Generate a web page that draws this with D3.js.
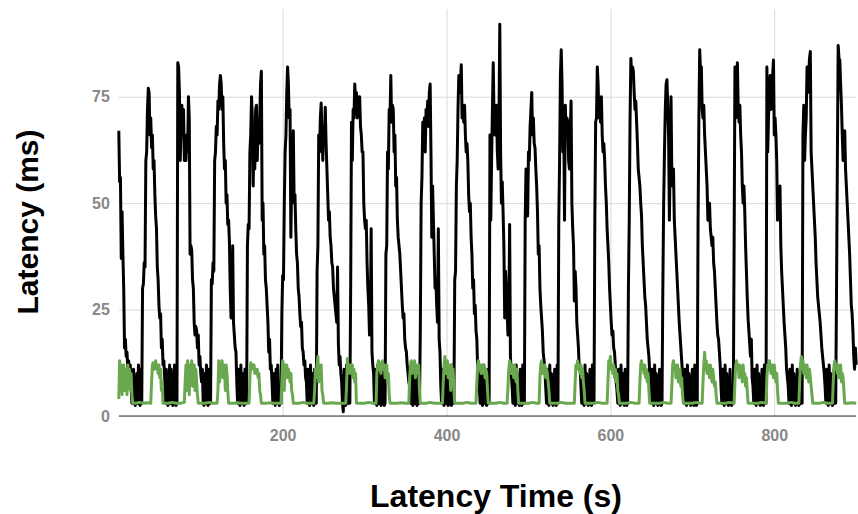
<!DOCTYPE html>
<html>
<head>
<meta charset="utf-8">
<script src="https://cdn.jsdelivr.net/npm/d3@7"></script>
<style>
  body { margin: 0; background: #fff; }
  .tick text { font-family: Arial, "Liberation Sans", sans-serif; font-weight: bold; font-size: 16px; fill: #888; }
  .title { font-family: Arial, "Liberation Sans", sans-serif; font-weight: bold; font-size: 30px; fill: #000; }
</style>
</head>
<body>
<div id="canvas"></div>
<script>
// tick labels
const yTicks = [0, 25, 50, 75];
const xTicks = [200, 400, 600, 800];

// [time (s), latency (ms)] - black series
const latencyBlack = [
  [0,67],[1,55],[2,56],[3,37],[4,48],[5,38],[6,30],[7,16],[8,18],[9,14],[10,15],[11,11],[12,13],[13,9],[14,12],[15,7],[16,3],[17,3],[18,11],[19,3],[20,2.5],[21,3],[22,10],[23,3],[24,12],[25,3],[26,2.5],[27,11],[28,3],
  [29,30],[30,31],[31,36],[32,35],[33,60],[34,62],[35,72],[36,77],[37,76],[38,66],[39,70],[40,63],[41,66],[42,58],[43,60],[44,52],[45,47],[46,44],[47,35],[48,32],[49,26],[50,23],[51,24],[52,16],[53,18],[54,12],[55,13],[56,9],[57,3],[58,11],[59,3],[60,2.5],[61,3],[62,12],[63,3],[64,11],[65,3],[66,2.5],[67,3],[68,12],[69,3],[70,2.5],[71,3],
  [72,83],[73,82],[74,76],[75,60],[76,68],[77,73],[78,66],[79,72],[80,60],[81,64],[82,60],[83,66],[84,62],[85,75],[86,70],[87,38],[88,40],[89,39],[90,32],[91,30],[92,22],[93,19],[94,21],[95,20],[96,16],[97,19],[98,12],[99,14],[100,10],[101,8],[102,11],[103,3],[104,2.5],[105,10],[106,3],[107,12],[108,3],[109,2.5],[110,11],[111,3],[112,3],
  [113,32],[114,31],[115,36],[116,34],[117,60],[118,62],[119,68],[120,66],[121,74],[122,72],[123,78],[124,80],[125,78],[126,72],[127,75],[128,64],[129,58],[130,60],[131,50],[132,52],[133,45],[134,46],[135,41],[136,30],[137,23],[138,25],[139,40],[140,22],[141,19],[142,16],[143,15],[144,8],[145,3],[146,11],[147,3],[148,2.5],[149,12],[150,3],[151,10],[152,3],[153,2.5],[154,11],[155,3],[156,3],
  [157,40],[158,45],[159,44],[160,62],[161,66],[162,75],[163,70],[164,54],[165,66],[166,58],[167,72],[168,73],[169,60],[170,68],[171,64],[172,70],[173,78],[174,81],[175,46],[176,50],[177,38],[178,40],[179,32],[180,30],[181,26],[182,22],[183,15],[184,18],[185,11],[186,12],[187,8],[188,3],[189,10],[190,3],[191,2.5],[192,11],[193,3],[194,12],[195,3],[196,2.5],[197,3],[198,3],
  [199,24],[200,33],[201,32],[202,50],[203,62],[204,66],[205,76],[206,82],[207,78],[208,70],[209,72],[210,42],[211,55],[212,60],[213,67],[214,50],[215,52],[216,44],[217,38],[218,36],[219,30],[220,28],[221,24],[222,21],[223,22],[224,16],[225,15],[226,12],[227,13],[228,9],[229,8],[230,3],[231,11],[232,3],[233,2.5],[234,12],[235,3],[236,10],[237,3],[238,2.5],[239,11],[240,3],[241,3],
  [242,34],[243,40],[244,66],[245,62],[246,70],[247,73.5],[248,66],[249,60],[250,68],[251,65],[252,72.5],[253,64],[254,58],[255,52],[256,46],[257,48],[258,42],[259,40],[260,36],[261,35],[262,30],[263,28],[264,26],[265,24],[266,22],[267,35],[268,17],[269,12],[270,14],[271,10],[272,8],[273,3],[274,1],[275,11],[276,3],[277,2.5],[278,12],[279,3],[280,10],[281,3],[282,3],
  [283,30],[284,69],[285,60],[286,72],[287,70],[288,78],[289,74],[290,76],[291,70],[292,75],[293,72],[294,75],[295,68],[296,66],[297,62],[298,62],[299,50],[300,46],[301,44],[302,46],[303,36],[304,30],[305,26],[306,19],[307,22],[308,44],[309,15],[310,12],[311,10],[312,3],[313,11],[314,3],[315,2.5],[316,12],[317,3],[318,10],[319,3],[320,2.5],[321,3],[322,11],[323,3],[324,2.5],[325,3],
  [326,38],[327,40],[328,62],[329,58],[330,72],[331,70],[332,80],[333,69],[334,73],[335,72],[336,62],[337,66],[338,54],[339,56],[340,46],[341,42],[342,40],[343,38],[344,34],[345,30],[346,26],[347,23],[348,24],[349,18],[350,16],[351,15],[352,12],[353,10],[354,8],[355,7],[356,3],[357,11],[358,3],[359,2.5],[360,12],[361,3],[362,10],[363,3],[364,2.5],[365,3],[366,11],[367,3],
  [368,20],[369,50],[370,56],[371,69],[372,66],[373,70],[374,62],[375,72],[376,70],[377,74],[378,68],[379,76],[380,78],[381,62],[382,42],[383,54],[384,46],[385,38],[386,30],[387,32],[388,26],[389,22],[390,44],[391,18],[392,15],[393,7],[394,3],[395,11],[396,3],[397,2.5],[398,12],[399,3],[400,10],[401,3],[402,2.5],[403,3],[404,11],[405,3],[406,2.5],[407,12],[408,3],[409,3],
  [410,32],[411,34],[412,54],[413,60],[414,72],[415,80],[416,76],[417,78],[418,82.5],[419,70],[420,72],[421,69],[422,73],[423,66],[424,62],[425,64],[426,60],[427,52],[428,48],[429,50],[430,42],[431,38],[432,30],[433,32],[434,24],[435,26],[436,20],[437,18],[438,11],[439,12],[440,7],[441,3],[442,11],[443,3],[444,2.5],[445,12],[446,3],[447,10],[448,3],[449,2.5],[450,3],[451,11],[452,3],
  [453,66],[454,46],[455,60],[456,72],[457,83],[458,70],[459,66],[460,68],[461,73],[462,62],[463,58],[464,70],[465,92],[466,62],[467,50],[468,55],[469,48],[470,40],[471,23],[472,34],[473,30],[474,24],[475,19],[476,22],[477,45],[478,14],[479,10],[480,7],[481,3],[482,11],[483,3],[484,2.5],[485,12],[486,3],[487,10],[488,3],[489,2.5],[490,11],[491,3],[492,2.5],[493,12],[494,3],[495,3],
  [496,46],[497,58],[498,50],[499,47],[500,62],[501,60],[502,68],[503,72],[504,76],[505,66],[506,70],[507,64],[508,63],[509,58],[510,54],[511,48],[512,38],[513,40],[514,30],[515,26],[516,23],[517,20],[518,15],[519,13],[520,11],[521,7],[522,3],[523,11],[524,3],[525,2.5],[526,12],[527,3],[528,10],[529,3],[530,2.5],[531,3],[532,11],[533,3],[534,2.5],[535,12],[536,3],
  [537,46],[538,60],[539,80],[540,86],[541,78],[542,62],[543,70],[544,46],[545,73],[546,66],[547,70],[548,69],[549,60],[550,58],[551,66],[552,74],[553,50],[554,44],[555,40],[556,27],[557,34],[558,30],[559,22],[560,19],[561,16],[562,11],[563,12],[564,7],[565,3],[566,11],[567,3],[568,2.5],[569,12],[570,3],[571,10],[572,3],[573,2.5],[574,3],[575,11],[576,3],[577,2.5],[578,12],[579,3],[580,3],
  [581,46],[582,69],[583,70],[584,82],[585,78],[586,70],[587,74],[588,69],[589,75],[590,66],[591,62],[592,64],[593,60],[594,54],[595,50],[596,44],[597,40],[598,36],[599,30],[600,26],[601,22],[602,19],[603,20],[604,16],[605,15],[606,12],[607,8],[608,6],[609,3],[610,11],[611,3],[612,2.5],[613,12],[614,3],[615,10],[616,3],[617,2.5],[618,11],[619,3],[620,2.5],[621,3],
  [622,30],[623,46],[624,70],[625,84],[626,80],[627,82],[628,81],[629,76],[630,72],[631,74],[632,69],[633,64],[634,58],[635,56],[636,54],[637,50],[638,47],[639,40],[640,36],[641,32],[642,28],[643,26],[644,22],[645,18],[646,16],[647,14],[648,10],[649,8],[650,3],[651,11],[652,3],[653,2.5],[654,12],[655,3],[656,10],[657,3],[658,2.5],[659,3],[660,11],[661,3],[662,2.5],[663,3],
  [664,30],[665,50],[666,62],[667,72],[668,78],[669,79],[670,73],[671,66],[672,46],[673,60],[674,75],[675,56],[676,54],[677,58],[678,46],[679,42],[680,38],[681,34],[682,30],[683,26],[684,22],[685,19],[686,16],[687,13],[688,10],[689,8],[690,3],[691,11],[692,3],[693,2.5],[694,12],[695,3],[696,10],[697,3],[698,2.5],[699,3],[700,11],[701,3],[702,2.5],[703,12],[704,3],[705,2.5],[706,3],
  [707,46],[708,70],[709,86],[710,81],[711,82],[712,72],[713,70],[714,73],[715,66],[716,62],[717,58],[718,54],[719,46],[720,48],[721,50],[722,44],[723,42],[724,40],[725,42],[726,36],[727,34],[728,30],[729,26],[730,22],[731,19],[732,18],[733,15],[734,12],[735,7],[736,3],[737,11],[738,3],[739,2.5],[740,12],[741,3],[742,10],[743,3],[744,2.5],[745,3],[746,11],[747,3],[748,2.5],[749,3],[750,3],
  [751,40],[752,82],[753,70],[754,78],[755,83],[756,72],[757,69],[758,73],[759,66],[760,62],[761,54],[762,50],[763,54],[764,48],[765,40],[766,34],[767,28],[768,23],[769,20],[770,17],[771,14],[772,18],[773,9],[774,7],[775,3],[776,11],[777,3],[778,2.5],[779,12],[780,3],[781,10],[782,3],[783,2.5],[784,3],[785,11],[786,3],[787,2.5],[788,12],[789,3],[790,3],
  [791,82],[792,62],[793,70],[794,78],[795,80],[796,72],[797,76],[798,80],[799,83.6],[800,66],[801,70],[802,66],[803,60],[804,46],[805,52],[806,48],[807,54],[808,40],[809,34],[810,30],[811,26],[812,22],[813,19],[814,16],[815,11],[816,9],[817,7],[818,3],[819,11],[820,3],[821,2.5],[822,12],[823,3],[824,10],[825,3],[826,2.5],[827,3],[828,11],[829,3],[830,2.5],[831,3],[832,12],[833,3],[834,3],
  [835,66],[836,73],[837,60],[838,66],[839,70],[840,82],[841,76],[842,80],[843,84],[844,85.6],[845,62],[846,58],[847,54],[848,50],[849,46],[850,42],[851,36],[852,32],[853,28],[854,26],[855,24],[856,22],[857,19],[858,16],[859,14],[860,12],[861,10],[862,7],[863,3],[864,11],[865,3],[866,2.5],[867,12],[868,3],[869,10],[870,3],[871,2.5],[872,3],[873,11],[874,3],[875,3],
  [876,30],[877,60],[878,87],[879,84],[880,83.6],[881,78],[882,73],[883,66],[884,60],[885,64],[886,67],[887,58],[888,54],[889,50],[890,46],[891,42],[892,38],[893,32],[894,26],[895,24],[896,20],[897,14],[898,11],[899,16],[900,12]
];

// green series
const latencyGreen = [
  [0,4],[1,13],[2,6],[3,12],[4,5],[5,11],[6,12],[7,6],[8,11],[9,10],[10,5],[11,12],[12,9],[13,11],[14,6],[15,10],[16,5],[17,3],
  [20,3],[25,3.2],[30,3],[35,3.1],[39,3],
  [40,8],[41,12],[42,12.5],[43,11],[44,12],[45,13],[46,11],[47,12],[48,10],[49,12],[50,9],[51,11],[52,6],[53,8],[54,3],
  [60,3],[65,3.2],[70,3],[75,3],[80,3.2],
  [81,8],[82,12],[83,6],[84,13],[85,11],[86,5],[87,12],[88,10],[89,13],[90,7],[91,11],[92,12],[93,6],[94,11],[95,8],[96,5],[97,3],
  [105,3],[110,3.2],[115,3],[120,3],
  [121,6],[122,13],[123,8],[124,12],[125,11],[126,13],[127,9],[128,12],[129,11],[130,6],[131,12],[132,10],[133,6],[134,3],
  [140,3],[145,3.1],[150,3],[155,3],[159,3],
  [160,9],[161,12.5],[162,11],[163,12],[164,11.5],[165,12],[166,10],[167,11],[168,10],[169,11],[170,9],[171,10],[172,6],[173,5],[174,3],
  [180,3],[185,3.1],[190,3],[195,3],[198,3],
  [199,8],[200,13],[201,12],[202,6],[203,12],[204,11],[205,12],[206,9],[207,11],[208,10],[209,8],[210,10],[211,6],[212,5],[213,3],
  [220,3],[225,3.2],[230,3],[235,3],[238,3],
  [239,6],[240,11],[241,9],[242,12],[243,14],[244,8],[245,12],[246,10],[247,12],[248,6],[249,5],[250,3],
  [255,3],[260,3.1],[265,3],[270,3],[277,3],
  [278,7],[279,13.5],[280,11],[281,12],[282,10],[283,12],[284,11],[285,12],[286,9],[287,11],[288,8],[289,10],[290,3],
  [295,3],[300,3],[305,3.2],[310,3],[314,3],
  [315,10],[316,12],[317,13],[318,11],[319,12.5],[320,10],[321,12],[322,13],[323,11],[324,12],[325,9],[326,11],[327,12],[328,8],[329,10],[330,5],[331,3],
  [335,3],[340,3],[345,3.1],[350,3],[354,3],
  [355,9],[356,12],[357,13],[358,10],[359,12],[360,11],[361,13],[362,9],[363,12],[364,11],[365,10],[366,12],[367,6],[368,3],
  [375,3],[380,3.2],[385,3],[390,3],[395,3],
  [396,8],[397,12],[398,14],[399,10],[400,12],[401,13],[402,9],[403,12],[404,11],[405,6],[406,12],[407,10],[408,11],[409,6],[410,3],
  [415,3],[420,3],[425,3.2],[430,3],[436,3],
  [437,8],[438,12],[439,13],[440,11],[441,12],[442,10],[443,12],[444,11],[445,10],[446,12],[447,9],[448,11],[449,10],[450,6],[451,3],
  [455,3],[460,3],[465,3.2],[470,3],[474,3],
  [475,7],[476,11],[477,13],[478,12],[479,10],[480,12],[481,11],[482,9],[483,12],[484,10],[485,8],[486,11],[487,6],[488,3],
  [495,3],[500,3],[505,3.2],[510,3],[513,3],
  [514,9],[515,12],[516,13],[517,10],[518,12],[519,11],[520,12],[521,9],[522,11],[523,10],[524,8],[525,6],[526,3],
  [530,3],[535,3],[540,3.2],[545,3],[550,3],[556,3],
  [557,8],[558,12],[559,11],[560,13],[561,11],[562,12],[563,10],[564,12],[565,9],[566,11],[567,8],[568,6],[569,3],
  [575,3],[580,3],[585,3.2],[590,3],[596,3],
  [597,8],[598,13],[599,12],[600,14],[601,11],[602,12],[603,10],[604,12],[605,9],[606,11],[607,8],[608,10],[609,6],[610,5],[611,3],
  [615,3],[620,3],[625,3.2],[630,3],[635,3],
  [636,8],[637,12],[638,13],[639,11],[640,12],[641,10],[642,12],[643,9],[644,11],[645,8],[646,10],[647,6],[648,3],
  [655,3],[660,3],[665,3.2],[670,3],[674,3],
  [675,7],[676,12],[677,13],[678,11],[679,12],[680,9],[681,11],[682,12],[683,8],[684,10],[685,11],[686,7],[687,9],[688,5],[689,3],
  [695,3],[700,3],[705,3.2],[710,3],[712,3],
  [713,8],[714,12],[715,15],[716,11],[717,13],[718,10],[719,12],[720,11],[721,9],[722,12],[723,10],[724,8],[725,11],[726,9],[727,7],[728,8],[729,5],[730,3],
  [735,3],[740,3],[745,3.2],[751,3],
  [752,8],[753,12],[754,13],[755,11],[756,12],[757,9],[758,12],[759,10],[760,11],[761,8],[762,12],[763,9],[764,10],[765,7],[766,9],[767,6],[768,3],
  [775,3],[780,3],[785,3.2],[790,3],
  [791,9],[792,12],[793,11],[794,13],[795,12],[796,10],[797,12],[798,11],[799,9],[800,12],[801,10],[802,8],[803,10],[804,6],[805,3],
  [810,3],[815,3],[820,3.2],[825,3],[830,3],
  [831,8],[832,12],[833,14],[834,11],[835,13],[836,10],[837,12],[838,11],[839,9],[840,12],[841,10],[842,8],[843,11],[844,9],[845,7],[846,5],[847,3],
  [850,3],[855,3],[860,3.2],[865,3],[871,3],
  [872,8],[873,12],[874,13],[875,11],[876,12],[877,10],[878,12],[879,9],[880,11],[881,12],[882,8],[883,10],[884,9],[885,6],[886,3],
  [890,3],[895,3.1],[900,3]
];

const width = 858;
const height = 514;
const margin = { top: 9, left: 118.8, bottom: 98, right: 1.8 };
const iwidth = width - margin.left - margin.right;
const iheight = height - margin.top - margin.bottom;

const svg = d3.select("#canvas").append("svg")
  .attr("width", width)
  .attr("height", height);

const graph = svg.append("g").attr("transform", `translate(${margin.left},${margin.top})`);

const x = d3.scaleLinear().domain([0, 900]).range([0, iwidth]);
const y = d3.scaleLinear().domain([0, 95.6]).range([iheight, 0]);

// grid + tick labels
const yAxis = graph.append("g")
  .call(d3.axisLeft(y).tickValues(yTicks).tickSize(-iwidth).tickPadding(9));
yAxis.select(".domain").remove();
yAxis.selectAll(".tick line").attr("stroke", "#d9d9d9").attr("stroke-width", 1);

const xAxis = graph.append("g")
  .attr("transform", `translate(0,${iheight})`)
  .call(d3.axisBottom(x).tickValues(xTicks).tickSize(-iheight).tickPadding(14));
xAxis.select(".domain").remove();
xAxis.selectAll(".tick line").attr("stroke", "#d9d9d9").attr("stroke-width", 1);

// bottom axis line
graph.append("line")
  .attr("x1", 0).attr("x2", iwidth)
  .attr("y1", y(0)).attr("y2", y(0))
  .attr("stroke", "#333").attr("stroke-width", 1.2);

const line = d3.line()
  .x(d => x(d[0]))
  .y(d => y(d[1]));

graph.append("path")
  .datum(latencyBlack)
  .attr("fill", "none")
  .attr("stroke", "#000")
  .attr("stroke-width", 3)
  .attr("stroke-linejoin", "round")
  .attr("d", line);

graph.append("path")
  .datum(latencyGreen)
  .attr("fill", "none")
  .attr("stroke", "#6aa84f")
  .attr("stroke-width", 3)
  .attr("stroke-linejoin", "round")
  .attr("d", line);

// axis titles
svg.append("text")
  .attr("class", "title")
  .attr("text-anchor", "middle")
  .attr("transform", "translate(38,222) rotate(-90)")
  .text("Latency (ms)");

svg.append("text")
  .attr("class", "title")
  .attr("text-anchor", "middle")
  .attr("x", 496)
  .attr("y", 507)
  .style("font-size", "32px")
  .text("Latency Time (s)");
</script>
</body>
</html>
